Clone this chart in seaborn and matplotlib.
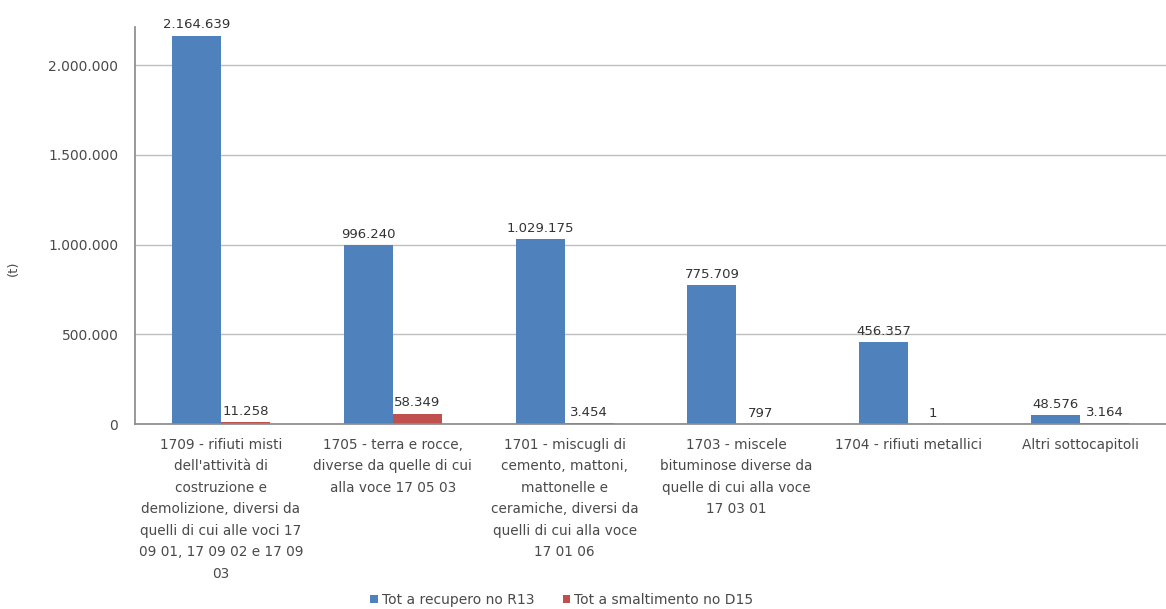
import matplotlib
matplotlib.use("Agg")
import matplotlib.pyplot as plt
import seaborn as sns
import pandas as pd

categories = [
    "1709 - rifiuti misti\ndell'attività di\ncostruzione e\ndemolizione, diversi da\nquelli di cui alle voci 17\n09 01, 17 09 02 e 17 09\n03",
    "1705 - terra e rocce,\ndiverse da quelle di cui\nalla voce 17 05 03",
    "1701 - miscugli di\ncemento, mattoni,\nmattonelle e\nceramiche, diversi da\nquelli di cui alla voce\n17 01 06",
    "1703 - miscele\nbituminose diverse da\nquelle di cui alla voce\n17 03 01",
    "1704 - rifiuti metallici",
    "Altri sottocapitoli",
]
recupero = [2164639, 996240, 1029175, 775709, 456357, 48576]
smaltimento = [11258, 58349, 3454, 797, 1, 3164]
series_names = ["Tot a recupero no R13", "Tot a smaltimento no D15"]
yticks = [0, 500000, 1000000, 1500000, 2000000]

df = pd.DataFrame({
    "cat": categories * 2,
    "serie": [series_names[0]] * 6 + [series_names[1]] * 6,
    "val": recupero + smaltimento,
})

sns.set_theme(style="white")
plt.rcParams["font.family"] = ["DejaVu Sans"]

TXT = "#4a4a4a"

fig = plt.figure(figsize=(11.66, 6.09), dpi=100)
ax = fig.add_axes([135 / 1166, 185 / 609, 1031 / 1166, 397 / 609])

sns.barplot(data=df, x="cat", y="val", hue="serie", order=categories,
            hue_order=series_names, palette=["#4F81BD", "#C0504D"],
            width=0.57, ax=ax, legend=True, saturation=1, linewidth=0)

def fmt(v):
    return f"{int(v):,}".replace(",", ".")

for cont in ax.containers:
    ax.bar_label(cont, labels=[fmt(b.get_height()) for b in cont],
                 padding=3, fontsize=9.5, color="#333333")

ax.set_ylim(0, 2212000)
ax.set_xlim(-0.5, 5.5)
ax.set_yticks(yticks)
ax.set_yticklabels([fmt(v) for v in yticks], fontsize=10, color=TXT)
ax.tick_params(axis="x", labelsize=9.8, colors=TXT, length=0, pad=10)
ax.tick_params(axis="y", length=0, pad=12)
ax.set_xlabel("")
ax.set_ylabel("(t)", fontsize=9.5, color=TXT)
ax.yaxis.set_label_coords(-0.112, 0.393)
ax.yaxis.grid(True, color="#BFBFBF", linewidth=1)
ax.set_axisbelow(True)
for s in ["top", "right"]:
    ax.spines[s].set_visible(False)
ax.spines["left"].set_color("#8c8c8c")
ax.spines["bottom"].set_color("#8c8c8c")

for t in ax.get_xticklabels():
    t.set_verticalalignment("top")
    t.set_multialignment("center")
    t.set_linespacing(1.68)

ax.legend(loc="center", bbox_to_anchor=((562 - 135) / 1031, (424 - 600) / 397), ncol=2,
          frameon=False, fontsize=10, handlelength=0.55, handleheight=0.55,
          columnspacing=2.0, handletextpad=0.3, labelcolor=TXT)

fig.savefig("out.png", dpi=100)
